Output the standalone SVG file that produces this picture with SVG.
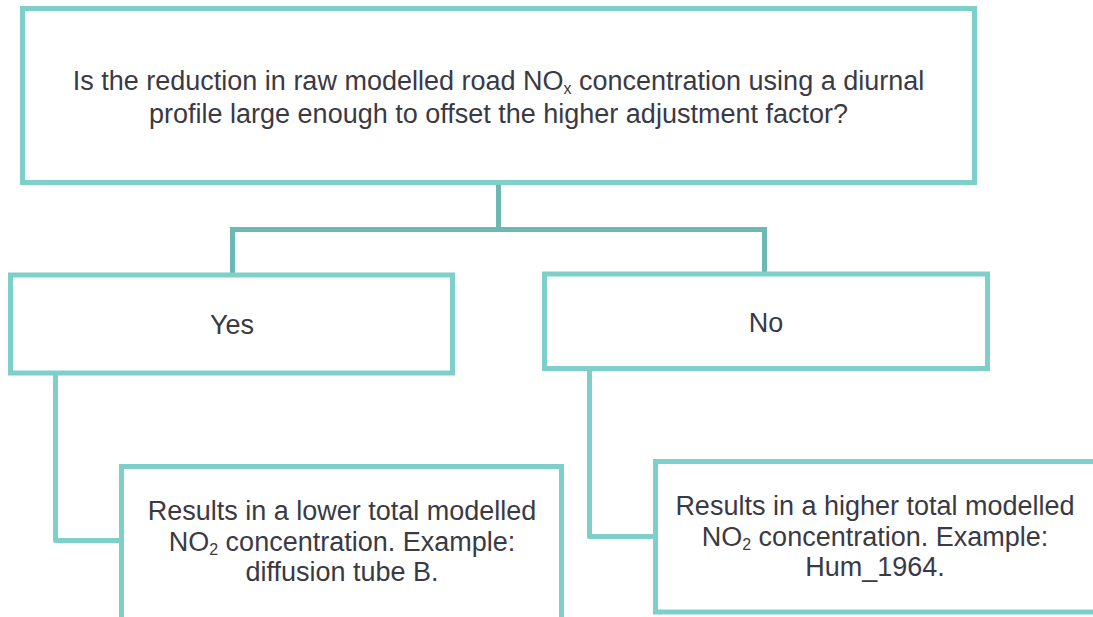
<svg xmlns="http://www.w3.org/2000/svg" width="1093" height="617" viewBox="0 0 1093 617">
  <style>
    .box { fill: #ffffff; stroke: #7ECFCA; stroke-width: 5; }
    .conn { fill: none; stroke: #7ECFCA; stroke-width: 5; stroke-linejoin: round; }
    .conn2 { fill: none; stroke: #6EB8B3; stroke-width: 5; stroke-linejoin: miter; }
    .t { font-family: "Liberation Sans", Arial, sans-serif; font-size: 27px; fill: #3A3A44; text-anchor: middle; }
    .sub { font-size: 16px; }
  </style>
  <rect width="1093" height="617" fill="#ffffff"/>
  <g id="connectors">
    <path class="conn2" d="M498.5,182 V229.5 M232.5,276 V229.5 H764.5 V276"/>
    <path class="conn" d="M55.5,373 V540.5 H122"/>
    <path class="conn" d="M589.5,368 V536.5 H656"/>
  </g>
  <g id="question">
    <rect class="box" x="22.5" y="8.5" width="952" height="174"/>
    <text class="t" x="498.5" y="89.5">Is the reduction in raw modelled road NO<tspan class="sub" dy="4">x</tspan><tspan dy="-4"> concentration using a diurnal</tspan></text>
    <text class="t" x="498.5" y="122.5">profile large enough to offset the higher adjustment factor?</text>
  </g>
  <g id="yes">
    <rect class="box" x="10.5" y="275" width="442" height="98"/>
    <text class="t" x="232" y="334">Yes</text>
  </g>
  <g id="no">
    <rect class="box" x="544.5" y="274" width="443" height="94.5"/>
    <text class="t" x="766" y="332">No</text>
  </g>
  <g id="yes-result">
    <rect class="box" x="121.5" y="466.5" width="440" height="160"/>
    <text class="t" x="342" y="520">Results in a lower total modelled</text>
    <text class="t" x="342" y="550.5">NO<tspan class="sub" dy="4">2</tspan><tspan dy="-4"> concentration. Example:</tspan></text>
    <text class="t" x="342" y="581">diffusion tube B.</text>
  </g>
  <g id="no-result">
    <rect class="box" x="655.5" y="461.5" width="445" height="150.5"/>
    <text class="t" x="875" y="515">Results in a higher total modelled</text>
    <text class="t" x="875" y="545.5">NO<tspan class="sub" dy="4">2</tspan><tspan dy="-4"> concentration. Example:</tspan></text>
    <text class="t" x="875" y="576">Hum_1964.</text>
  </g>
</svg>
